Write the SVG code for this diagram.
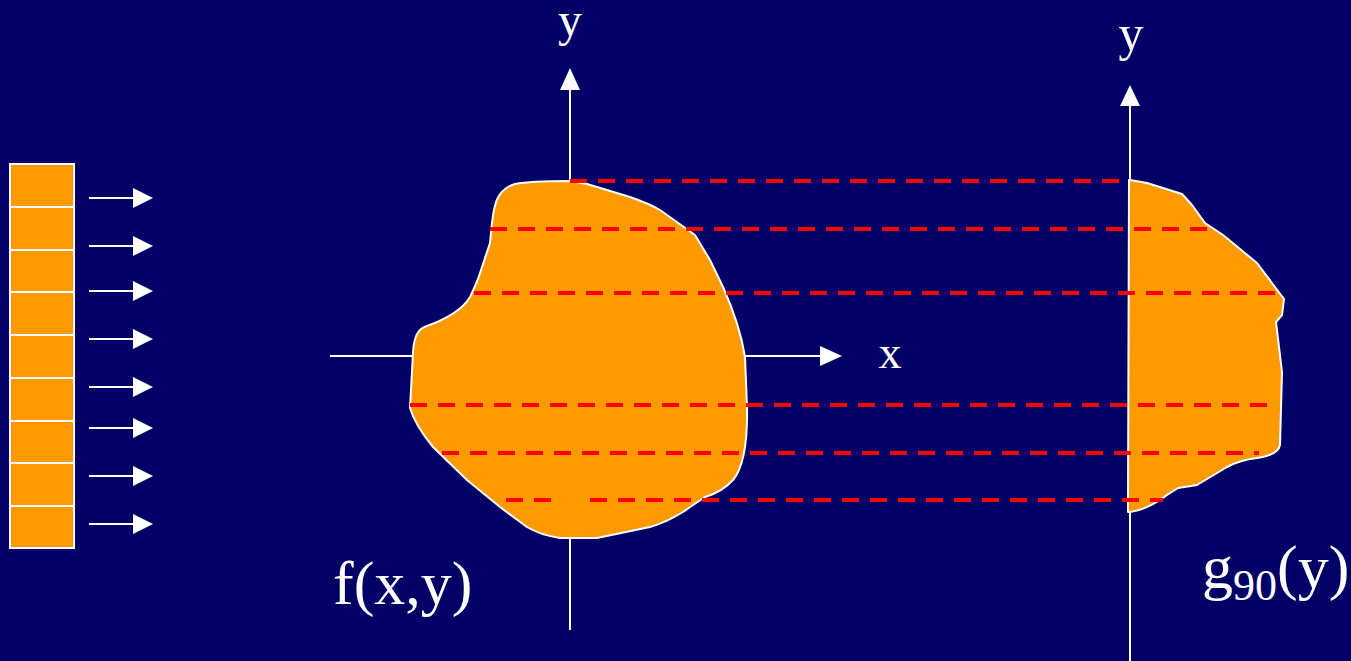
<svg xmlns="http://www.w3.org/2000/svg" width="1351" height="661" viewBox="0 0 1351 661">
<style>
.ax{stroke:#fff;stroke-width:2;fill:none}
.ah{fill:#fff}
.cell{fill:#FF9900;stroke:#fff;stroke-width:2}
.blob{fill:#FF9900;stroke:#fff;stroke-width:2;stroke-linejoin:round}
.dash{stroke:#FF0000;stroke-width:4;stroke-dasharray:17 11;fill:none}
.t{fill:#fff;font-family:"Liberation Serif","Times New Roman",serif}
</style>
<rect x="0" y="0" width="1351" height="661" fill="#000066"/>
<g id="detector">
<rect class="cell" x="10" y="164" width="64" height="43"/>
<rect class="cell" x="10" y="207" width="64" height="43"/>
<rect class="cell" x="10" y="250" width="64" height="42"/>
<rect class="cell" x="10" y="292" width="64" height="43"/>
<rect class="cell" x="10" y="335" width="64" height="43"/>
<rect class="cell" x="10" y="378" width="64" height="43"/>
<rect class="cell" x="10" y="421" width="64" height="42"/>
<rect class="cell" x="10" y="463" width="64" height="43"/>
<rect class="cell" x="10" y="506" width="64" height="42"/>
</g>
<g id="rays">
<line class="ax" x1="89" y1="198" x2="135" y2="198"/><polygon class="ah" points="133,188 153,198 133,208"/>
<line class="ax" x1="89" y1="246" x2="135" y2="246"/><polygon class="ah" points="133,236 153,246 133,256"/>
<line class="ax" x1="89" y1="291" x2="135" y2="291"/><polygon class="ah" points="133,281 153,291 133,301"/>
<line class="ax" x1="89" y1="339" x2="135" y2="339"/><polygon class="ah" points="133,329 153,339 133,349"/>
<line class="ax" x1="89" y1="387" x2="135" y2="387"/><polygon class="ah" points="133,377 153,387 133,397"/>
<line class="ax" x1="89" y1="428" x2="135" y2="428"/><polygon class="ah" points="133,418 153,428 133,438"/>
<line class="ax" x1="89" y1="476" x2="135" y2="476"/><polygon class="ah" points="133,466 153,476 133,486"/>
<line class="ax" x1="89" y1="524" x2="135" y2="524"/><polygon class="ah" points="133,514 153,524 133,534"/>
</g>
<g id="axes">
<line class="ax" x1="570" y1="88" x2="570" y2="630"/>
<polygon class="ah" points="560,90 570,68 580,90"/>
<line class="ax" x1="330" y1="356" x2="822" y2="356"/>
<polygon class="ah" points="820,346 842,356 820,366"/>
<line class="ax" x1="1130" y1="104" x2="1130" y2="661"/>
<polygon class="ah" points="1120,106 1130,85 1140,106"/>
<text class="t" x="570" y="36" font-size="48" text-anchor="middle">y</text>
<text class="t" x="1131" y="50" font-size="50" text-anchor="middle">y</text>
<text class="t" x="890" y="368" font-size="46" text-anchor="middle">x</text>
</g>
<g id="object-f">
<path class="blob" d="M570,181 L587,184 L630,197 Q650,204 660,210 L695,235 L710,260 L723,287 Q740,325 745,357 L747,407 Q748,462 733,480 Q722,492 705,497 Q690,507 683,512 Q665,523 650,527 L597,538 L560,538 Q540,535 527,527 L500,507 L467,480 L433,447 Q415,425 410,408 L413,353 Q414,329 427,326 Q460,314 470,297 Q478,280 480,273 L490,243 C493,215 492,190 515,184 Q530,181 570,181 Z"/>
<text class="t" x="333" y="604" font-size="62">f(x,y)</text>
</g>
<g id="projection-g">
<path class="blob" d="M1130,180 L1147,183 L1182,194 L1192,205 L1205,223 L1223,235 L1257,263 L1284,299 L1282,315 L1276,322 L1282,372 L1280,445 Q1278,455 1257,458 Q1240,460 1227,467 L1197,485 L1178,488 L1167,495 Q1147,510 1130,512 L1128,512 L1129,180 Z"/>
<line class="ax" x1="1130" y1="104" x2="1130" y2="180"/>
<line class="ax" x1="1130" y1="512" x2="1130" y2="661"/>
<text class="t" x="1202" y="588" font-size="62">g<tspan font-size="44" dy="12">90</tspan><tspan dy="-12">(y)</tspan></text>
</g>
<g id="connectors">
<line class="dash" x1="570" y1="181" x2="1119" y2="181"/>
<line class="dash" x1="490" y1="229" x2="1207" y2="229"/>
<line class="dash" x1="474" y1="293" x2="1275" y2="293"/>
<line class="dash" x1="410" y1="405" x2="1267" y2="405"/>
<line class="dash" x1="442" y1="453" x2="1259" y2="453"/>
<line class="dash" x1="506" y1="500" x2="551" y2="500"/>
<line class="dash" x1="590" y1="500" x2="1163" y2="500"/>
</g>
</svg>
